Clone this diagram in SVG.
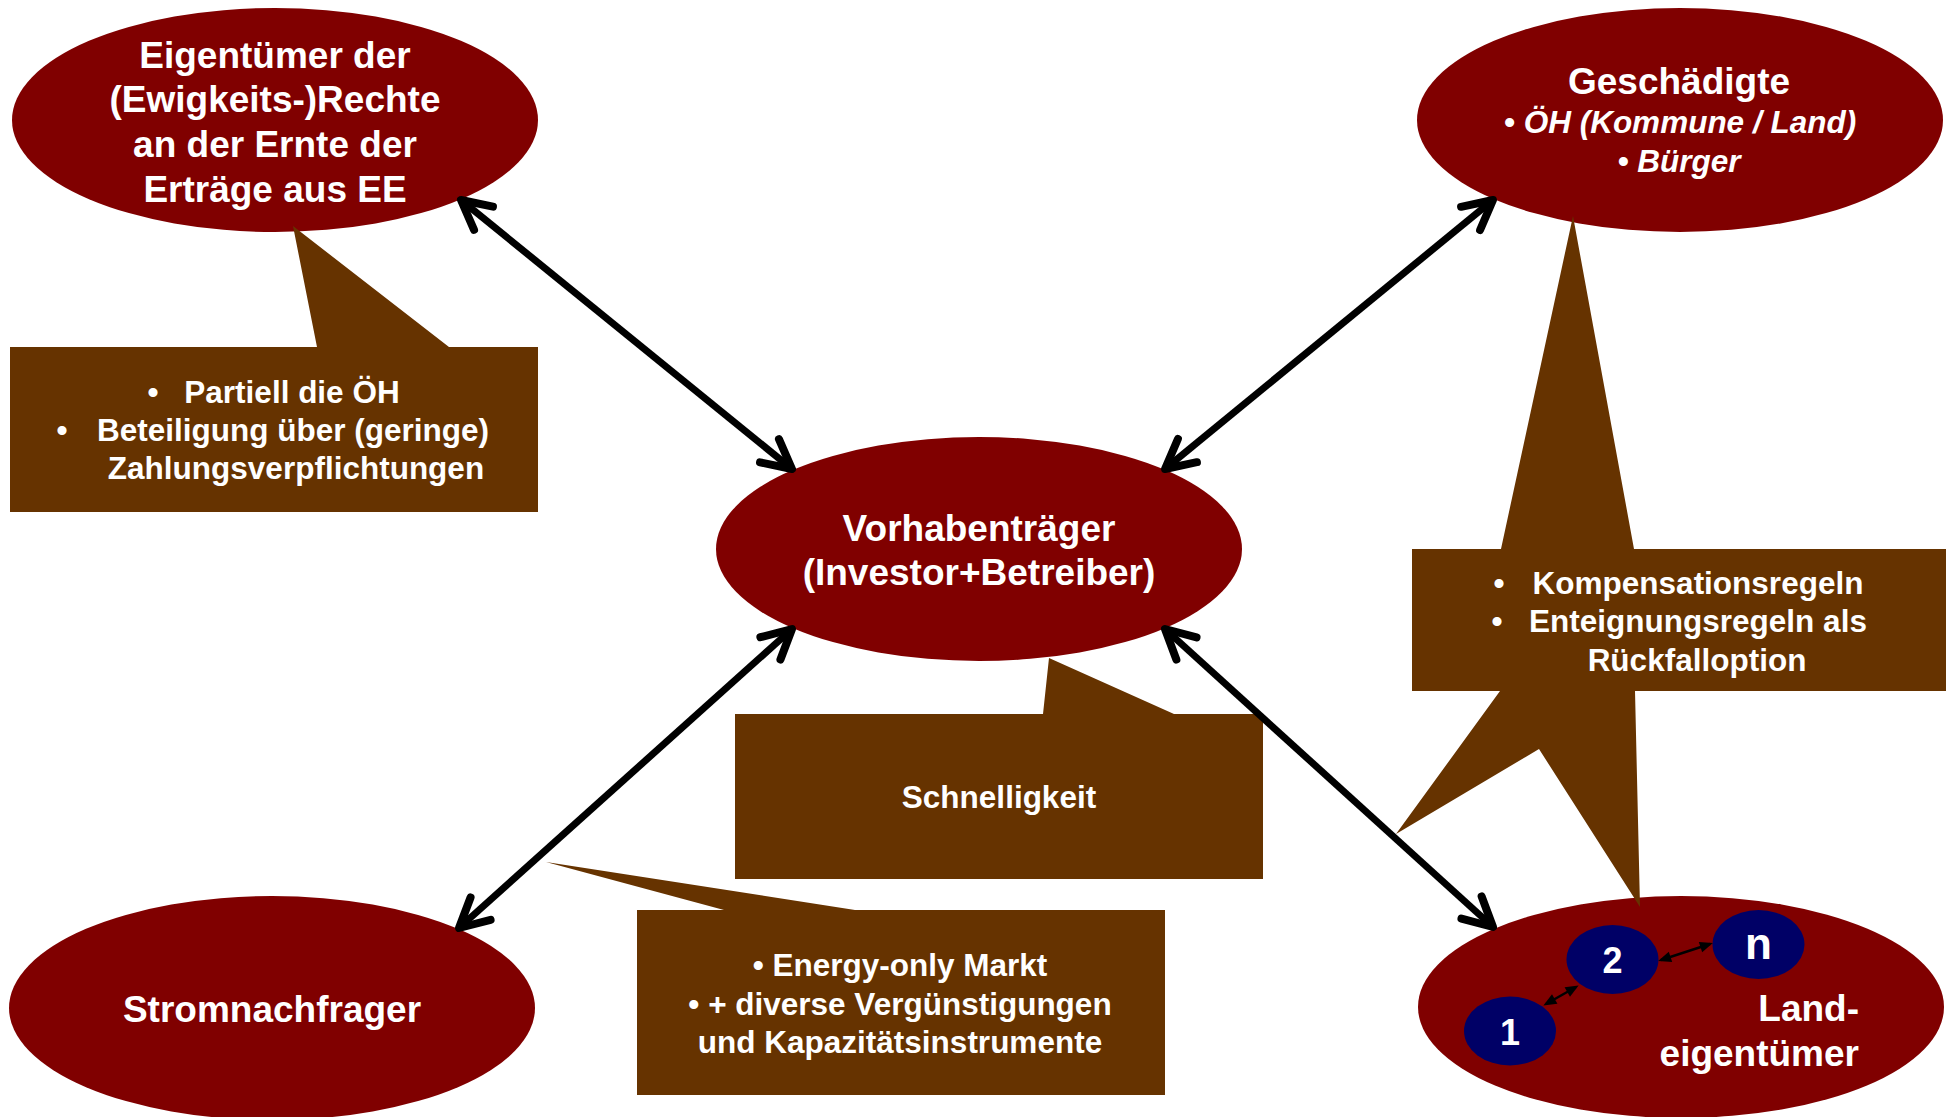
<svg xmlns="http://www.w3.org/2000/svg" width="1953" height="1117" viewBox="0 0 1953 1117">
<style>
.node{fill:#800000}
.call{fill:#663300}
.sub{fill:#000066}
.t{font-family:"Liberation Sans",Arial,sans-serif;font-weight:bold;fill:#fff;font-size:37px;text-anchor:middle}
.c{font-family:"Liberation Sans",Arial,sans-serif;font-weight:bold;fill:#fff;font-size:31.5px;text-anchor:middle}
.i{font-style:italic}
.conn{stroke:#000;stroke-width:7;fill:none;marker-start:url(#ah);marker-end:url(#ah)}
.sconn{stroke:#000;stroke-width:2.5;fill:none;marker-start:url(#sa);marker-end:url(#sa)}
</style>
<defs>
<marker id="ah" markerUnits="userSpaceOnUse" orient="auto-start-reverse" overflow="visible" markerWidth="1" markerHeight="1" refX="0" refY="0">
<path d="M-29,-15 L0,0 L-29,15" fill="none" stroke="#000" stroke-width="8" stroke-linecap="round" stroke-linejoin="round"/>
</marker>
<marker id="sa" markerUnits="userSpaceOnUse" orient="auto-start-reverse" overflow="visible" markerWidth="1" markerHeight="1" refX="0" refY="0">
<path d="M-10,-5.5 L3,0 L-10,5.5 Z" fill="#000"/>
</marker>
</defs>
<rect width="1953" height="1117" fill="#fff"/>

<g id="node-eigentuemer-rechte">
<ellipse class="node" cx="275" cy="120" rx="263" ry="112"/>
<text class="t" x="275" y="68">Eigentümer der</text>
<text class="t" x="275" y="112">(Ewigkeits-)Rechte</text>
<text class="t" x="275" y="157">an der Ernte der</text>
<text class="t" x="275" y="202">Erträge aus EE</text>
</g>

<g id="node-geschaedigte">
<ellipse class="node" cx="1680" cy="120" rx="263" ry="112"/>
<text class="t" x="1679" y="94">Geschädigte</text>
<text class="c i" x="1680" y="133">• ÖH (Kommune / Land)</text>
<text class="c i" x="1679" y="172">• Bürger</text>
</g>

<g id="node-vorhabentraeger">
<ellipse class="node" cx="979" cy="549" rx="263" ry="112"/>
<text class="t" x="979" y="541">Vorhabenträger</text>
<text class="t" x="979" y="585">(Investor+Betreiber)</text>
</g>

<g id="node-stromnachfrager">
<ellipse class="node" cx="272" cy="1008" rx="263" ry="112"/>
<text class="t" x="272" y="1022">Stromnachfrager</text>
</g>

<g id="node-landeigentuemer">
<ellipse class="node" cx="1681" cy="1007" rx="263" ry="111"/>
<text class="t" x="1859" y="1021" style="text-anchor:end">Land-</text>
<text class="t" x="1859" y="1066" style="text-anchor:end">eigentümer</text>
<g id="node-land-1">
<ellipse class="sub" cx="1510" cy="1031" rx="46" ry="34.5"/>
<text class="t" x="1510" y="1045" style="font-size:36px">1</text>
</g>
<g id="node-land-2">
<ellipse class="sub" cx="1612.5" cy="959.5" rx="46" ry="34.5"/>
<text class="t" x="1612.5" y="973" style="font-size:36px">2</text>
</g>
<g id="node-land-n">
<ellipse class="sub" cx="1758.5" cy="944.5" rx="46" ry="34.5"/>
<text class="t" x="1758.5" y="959" style="font-size:44px">n</text>
</g>
</g>

<g id="callout-eigentuemer">
<path class="call" d="M10,347 H317 L293,226 L449,347 H538 V512 H10 Z"/>
<text class="c" x="153" y="403">•</text>
<text class="c" x="292" y="403">Partiell die ÖH</text>
<text class="c" x="62" y="441">•</text>
<text class="c" x="293" y="441">Beteiligung über (geringe)</text>
<text class="c" x="296" y="479">Zahlungsverpflichtungen</text>
</g>

<g id="callout-geschaedigte">
<path class="call" d="M1412,549 H1501 L1573,216 L1634,549 H1946 V691 H1635 L1640,907 L1539,749 L1396,834 L1500,691 H1412 Z"/>
<text class="c" x="1499" y="594">•</text>
<text class="c" x="1698" y="594">Kompensationsregeln</text>
<text class="c" x="1497" y="632">•</text>
<text class="c" x="1698" y="632">Enteignungsregeln als</text>
<text class="c" x="1697" y="671">Rückfalloption</text>
</g>

<g id="callout-schnelligkeit">
<path class="call" d="M735,714 H1043 L1049,658 L1174,714 H1263 V879 H735 Z"/>
<text class="c" x="999" y="808">Schnelligkeit</text>
</g>

<g id="callout-markt">
<path class="call" d="M637,910 H724 L546,862 L855,910 H1165 V1095 H637 Z"/>
<text class="c" x="900" y="976">• Energy-only Markt</text>
<text class="c" x="900" y="1015">• + diverse Vergünstigungen</text>
<text class="c" x="900" y="1053">und Kapazitätsinstrumente</text>
</g>

<g id="connectors">
<line class="conn" x1="461" y1="200" x2="792" y2="469"/>
<line class="conn" x1="1493" y1="200" x2="1165" y2="469"/>
<line class="conn" x1="792" y1="629" x2="459" y2="928"/>
<line class="conn" x1="1165" y1="629" x2="1493" y2="927"/>
<line class="sconn" x1="1546" y1="1004" x2="1576" y2="987"/>
<line class="sconn" x1="1661" y1="960" x2="1710" y2="944"/>
</g>
</svg>
